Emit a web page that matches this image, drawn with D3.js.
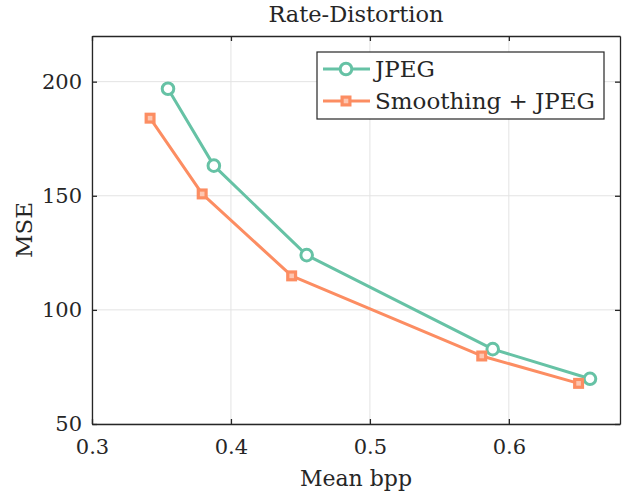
<!DOCTYPE html>
<html><head><meta charset="utf-8">
<script src="https://cdn.jsdelivr.net/npm/d3@7"></script>
<style>body{margin:0;background:#fff}svg{display:block}text{font-family:"DejaVu Serif",serif;fill:#262626}</style>
</head><body><svg id="c" width="628" height="493"></svg>
<script>
const bppJPEG = [0.3547, 0.3877, 0.4545, 0.5884, 0.6584];
const mseJPEG = [196.9, 163.2, 124.0, 82.8, 69.8];
const bppSmooth = [0.3418, 0.3793, 0.4437, 0.5805, 0.6502];
const mseSmooth = [184.0, 150.8, 114.9, 79.8, 67.8];
const xTicks = [0.3, 0.4, 0.5, 0.6];
const yTicks = [50, 100, 150, 200];
const seriesNames = ["JPEG", "Smoothing + JPEG"];
const colors = ["#66c2a5", "#fc8d62"];
const FONT = '"DejaVu Serif", serif';

const svg = d3.select("#c");
const L = 92, R = 620, T = 36, B = 424;
const x = d3.scaleLinear().domain([0.3, 0.68]).range([L, R]);
const y = d3.scaleLinear().domain([50, 220]).range([B, T]);

svg.append("g").selectAll("line").data(xTicks).join("line")
  .attr("x1", d => x(d)).attr("x2", d => x(d)).attr("y1", T).attr("y2", B)
  .attr("stroke", "#e3e3e3").attr("stroke-width", 1);
svg.append("g").selectAll("line").data(yTicks).join("line")
  .attr("y1", d => y(d)).attr("y2", d => y(d)).attr("x1", L).attr("x2", R)
  .attr("stroke", "#e3e3e3").attr("stroke-width", 1);

const fmtX = d3.format(".1f");
const ax = svg.append("g").attr("transform", `translate(0,${B})`)
  .call(d3.axisBottom(x).tickValues(xTicks).tickFormat(fmtX).tickSizeInner(-5).tickSizeOuter(0).tickPadding(15));
const axT = svg.append("g").attr("transform", `translate(0,${T})`)
  .call(d3.axisTop(x).tickValues(xTicks).tickFormat("").tickSizeInner(-5).tickSizeOuter(0));
const ay = svg.append("g").attr("transform", `translate(${L},0)`)
  .call(d3.axisLeft(y).tickValues(yTicks).tickSizeInner(-5).tickSizeOuter(0).tickPadding(10));
const ayR = svg.append("g").attr("transform", `translate(${R},0)`)
  .call(d3.axisRight(y).tickValues(yTicks).tickFormat("").tickSizeInner(-5).tickSizeOuter(0));
[ax, axT, ay, ayR].forEach(g => {
  g.attr("font-family", FONT);
  g.select(".domain").attr("stroke", "#262626").attr("stroke-width", 1.3);
  g.selectAll(".tick line").attr("stroke", "#262626").attr("stroke-width", 1.3);
  g.selectAll("text").attr("font-size", 21).attr("fill", "#262626");
});

const line = d3.line().x(d => x(d[0])).y(d => y(d[1]));
const sets = [d3.zip(bppJPEG, mseJPEG), d3.zip(bppSmooth, mseSmooth)];
sets.forEach((pts, i) => {
  svg.append("path").datum(pts).attr("d", line).attr("fill", "none")
    .attr("stroke", colors[i]).attr("stroke-width", 3).attr("stroke-linejoin", "round");
});
function marker(g, i, cx, cy) {
  if (i === 0) g.append("circle").attr("cx", cx).attr("cy", cy).attr("r", 5.8)
      .attr("fill", "#fff").attr("stroke", colors[0]).attr("stroke-width", 3);
  else g.append("rect").attr("x", cx - 3.9).attr("y", cy - 3.9).attr("width", 7.8).attr("height", 7.8)
      .attr("fill", "#fdc7b2").attr("stroke", colors[1]).attr("stroke-width", 3.2);
}
sets.forEach((pts, i) => {
  const g = svg.append("g");
  pts.forEach(p => marker(g, i, x(p[0]), y(p[1])));
});

svg.append("text").attr("x", (L + R) / 2).attr("y", 22).attr("text-anchor", "middle")
  .attr("font-size", 22.5).text("Rate-Distortion");
svg.append("text").attr("x", (L + R) / 2).attr("y", 486).attr("text-anchor", "middle")
  .attr("font-size", 22).text("Mean bpp");
svg.append("text").attr("transform", `translate(32,${(T + B) / 2}) rotate(-90)`).attr("text-anchor", "middle")
  .attr("font-size", 23).text("MSE");

const lg = svg.append("g");
lg.append("rect").attr("x", 317).attr("y", 52).attr("width", 287).attr("height", 67)
  .attr("fill", "#fff").attr("stroke", "#262626").attr("stroke-width", 1.2);
seriesNames.forEach((name, i) => {
  const yy = 69 + i * 32;
  lg.append("line").attr("x1", 323).attr("x2", 370).attr("y1", yy).attr("y2", yy)
    .attr("stroke", colors[i]).attr("stroke-width", 3);
  marker(lg, i, 346, yy);
  lg.append("text").attr("x", 375).attr("y", yy + 8).attr("font-size", 23).text(name);
});
</script></body></html>
